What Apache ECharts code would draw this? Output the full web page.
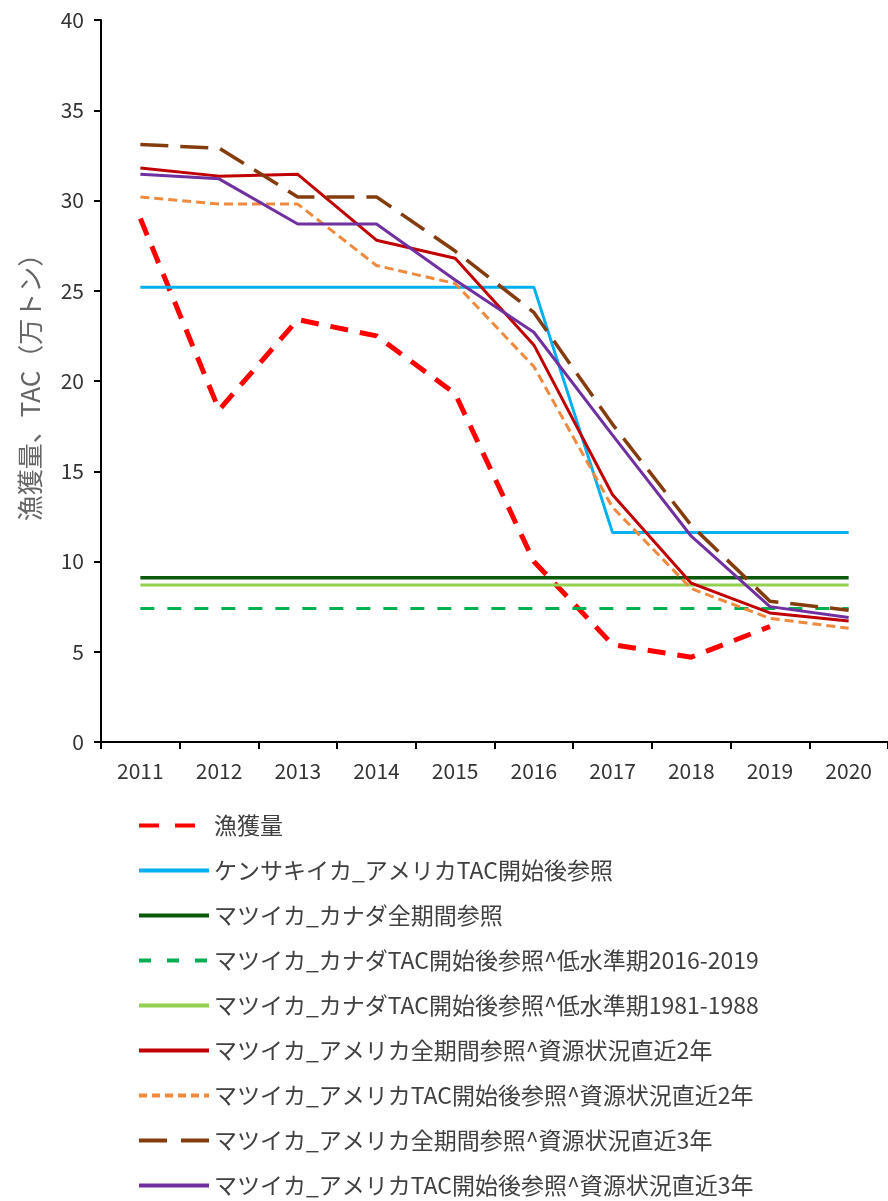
<!DOCTYPE html>
<html>
<head>
<meta charset="utf-8">
<script src="https://cdn.jsdelivr.net/npm/echarts@6/dist/echarts.min.js"></script>
<style>
  html, body { margin: 0; padding: 0; background: #fff; }
  #chart { width: 888px; height: 1201px; }
</style>
</head>
<body>
<div id="chart"></div>
<script>
// 年（横軸）
const years = ['2011', '2012', '2013', '2014', '2015', '2016', '2017', '2018', '2019', '2020'];

// 漁獲量（万トン）
const catchAmount = [29.0, 18.4, 23.4, 22.5, 19.3, 10.0, 5.4, 4.7, 6.4, null];
// ケンサキイカ_アメリカTAC開始後参照
const kensakiUS = [25.2, 25.2, 25.2, 25.2, 25.2, 25.2, 11.6, 11.6, 11.6, 11.6];
// マツイカ_カナダ全期間参照
const matsuCanAll = [9.1, 9.1, 9.1, 9.1, 9.1, 9.1, 9.1, 9.1, 9.1, 9.1];
// マツイカ_カナダTAC開始後参照^低水準期2016-2019
const matsuCanLow1619 = [7.4, 7.4, 7.4, 7.4, 7.4, 7.4, 7.4, 7.4, 7.4, 7.4];
// マツイカ_カナダTAC開始後参照^低水準期1981-1988
const matsuCanLow8188 = [8.7, 8.7, 8.7, 8.7, 8.7, 8.7, 8.7, 8.7, 8.7, 8.7];
// マツイカ_アメリカ全期間参照^資源状況直近2年
const matsuUSAll2 = [31.8, 31.35, 31.45, 27.8, 26.8, 22.0, 13.7, 8.8, 7.15, 6.7];
// マツイカ_アメリカTAC開始後参照^資源状況直近2年
const matsuUSTac2 = [30.2, 29.8, 29.8, 26.4, 25.4, 20.8, 13.0, 8.5, 6.85, 6.3];
// マツイカ_アメリカ全期間参照^資源状況直近3年
const matsuUSAll3 = [33.1, 32.9, 30.2, 30.2, 27.2, 23.8, 17.6, 12.0, 7.8, 7.3];
// マツイカ_アメリカTAC開始後参照^資源状況直近3年
const matsuUSTac3 = [31.45, 31.2, 28.7, 28.7, 25.6, 22.7, 17.0, 11.4, 7.5, 6.9];

// 縦軸の目盛
const yTicks = { min: 0, max: 40, interval: 5 };

const FONT = '"Noto Sans CJK JP", "Noto Sans", sans-serif';

function line(name, data, color, width, dash, legendDash) {
  return {
    name: name,
    type: 'line',
    data: data,
    symbol: 'none',
    showSymbol: false,
    connectNulls: false,
    animation: false,
    lineStyle: { color: color, width: width, type: dash || 'solid', cap: 'butt' },
    itemStyle: { color: color },
    legendLine: { color: color, width: 4, type: legendDash || dash || 'solid' }
  };
}

const series = [
  line('漁獲量', catchAmount, '#FF0000', 5, [18, 12], [20, 16]),
  line('ケンサキイカ_アメリカTAC開始後参照', kensakiUS, '#00B0F0', 3),
  line('マツイカ_カナダ全期間参照', matsuCanAll, '#0B5A0B', 3.5),
  line('マツイカ_カナダTAC開始後参照^低水準期2016-2019', matsuCanLow1619, '#00B050', 3, [14, 13], [12, 16]),
  line('マツイカ_カナダTAC開始後参照^低水準期1981-1988', matsuCanLow8188, '#92D050', 3),
  line('マツイカ_アメリカ全期間参照^資源状況直近2年', matsuUSAll2, '#C00000', 3),
  line('マツイカ_アメリカTAC開始後参照^資源状況直近2年', matsuUSTac2, '#F08A3E', 3, [9, 5], [8, 5]),
  line('マツイカ_アメリカ全期間参照^資源状況直近3年', matsuUSAll3, '#843C0C', 3.5, [28, 12], [28, 14]),
  line('マツイカ_アメリカTAC開始後参照^資源状況直近3年', matsuUSTac3, '#7030A0', 3)
];

const chart = echarts.init(document.getElementById('chart'), null, { renderer: 'canvas' });
chart.setOption({
  backgroundColor: '#ffffff',
  animation: false,
  textStyle: { fontFamily: FONT },
  grid: { left: 101, top: 20, width: 794, height: 722, containLabel: false },
  xAxis: {
    type: 'category',
    data: years,
    boundaryGap: true,
    axisLine: { lineStyle: { color: '#000', width: 2 } },
    axisTick: { show: true, length: 7, lineStyle: { color: '#000', width: 2 } },
    axisLabel: { color: '#333', fontSize: 21, margin: 19, fontFamily: FONT },
    splitLine: { show: false }
  },
  yAxis: {
    type: 'value',
    min: yTicks.min,
    max: yTicks.max,
    interval: yTicks.interval,
    name: '漁獲量、TAC（万トン）',
    nameLocation: 'middle',
    nameRotate: 90,
    nameGap: 58,
    nameTextStyle: { color: '#666', fontSize: 26, fontFamily: FONT },
    axisLine: { show: true, lineStyle: { color: '#000', width: 2 } },
    axisTick: { show: true, length: 7, lineStyle: { color: '#000', width: 2 } },
    axisLabel: { color: '#333', fontSize: 21, margin: 17, fontFamily: FONT },
    splitLine: { show: false }
  },
  legend: {
    orient: 'vertical',
    left: 137,
    top: 814,
    padding: 0,
    height: 400,
    itemWidth: 70,
    itemHeight: 22,
    itemGap: 22,
    itemStyle: { opacity: 0 },
    textStyle: { color: '#404040', fontSize: 23, lineHeight: 22, fontFamily: FONT },
    data: series.map(s => ({ name: s.name, lineStyle: s.legendLine, itemStyle: { opacity: 0 } }))
  },
  series: series
});
</script>
</body>
</html>
